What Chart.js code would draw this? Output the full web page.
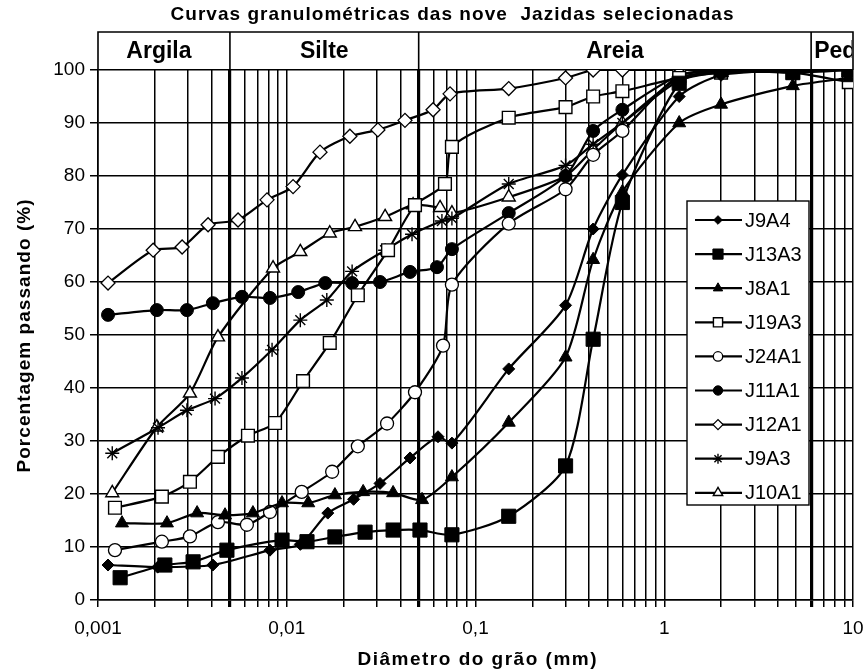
<!DOCTYPE html>
<html><head><meta charset="utf-8">
<script src="https://cdn.jsdelivr.net/npm/chart.js@4.4.1/dist/chart.umd.min.js"></script>
<style>html,body{margin:0;padding:0;background:#fff}#wrap{width:865px;height:672px}</style>
</head><body><div id="wrap"><canvas id="c" width="865" height="672"></canvas></div>
<script>
const titleText = 'Curvas granulométricas das nove  Jazidas selecionadas';
const xTitle = 'Diâmetro do grão (mm)';
const yTitle = 'Porcentagem passando (%)';
const seriesNames = ['J9A4','J13A3','J8A1','J19A3','J24A1','J11A1','J12A1','J9A3','J10A1'];
const zoneNames = ['Argila','Silte','Areia','Ped'];
const zoneLimits = [0.001, 0.005, 0.05, 6, 10];
const xTickValues = [0.001, 0.01, 0.1, 1, 10];
const xTickLabels = ['0,001','0,01','0,1','1','10'];
const yTickValues = [0,10,20,30,40,50,60,70,80,90,100];

const J9A4_d = [0.00113,0.00207,0.00406,0.00815,0.0118,0.0165,0.0226,0.0312,0.045,0.0633,0.075,0.15,0.3,0.42,0.6,1.2,2.0,4.8,9.5];
const J9A4_p = [6.6,6.2,6.6,9.4,10.5,16.4,19,22,26.8,30.8,29.6,43.6,55.6,70,80.2,95,99,100,100];
const J13A3_d = [0.00131,0.00226,0.00319,0.00482,0.00944,0.0128,0.018,0.026,0.0366,0.0508,0.075,0.15,0.3,0.42,0.6,1.2,2.0,4.8,9.5];
const J13A3_p = [4.2,6.6,7.2,9.4,11.3,11,11.9,12.8,13.2,13.2,12.3,15.8,25.3,49.2,75,97.5,100,99.5,100];
const J8A1_d = [0.00134,0.00232,0.00335,0.00471,0.00662,0.00944,0.013,0.018,0.0254,0.0366,0.0521,0.075,0.15,0.3,0.42,0.6,1.2,2.0,4.8,9.5];
const J8A1_p = [14.5,14.5,16.4,16,16.4,18.3,18.3,19.8,20.4,20.2,18.9,23.2,33.5,45.8,64.2,77,90,93.5,97,98.5];
const J19A3_d = [0.00123,0.00218,0.00307,0.00432,0.00623,0.00867,0.0122,0.0169,0.0238,0.0344,0.0478,0.0689,0.075,0.15,0.3,0.42,0.6,1.2,2.0,4.8,9.5];
const J19A3_p = [17.4,19.5,22.3,27,31,33.4,41.3,48.5,57.5,66,74.5,78.5,85.5,91,93,95,96,98.5,99.5,99.5,97.7];
const J24A1_d = [0.00123,0.00218,0.00307,0.00432,0.00615,0.00815,0.012,0.0174,0.0238,0.034,0.0478,0.0673,0.075,0.15,0.3,0.42,0.6,1.2,2.0,9.5];
const J24A1_p = [9.4,11,12,14.7,14.2,16.6,20.4,24.2,29,33.3,39.2,48,59.5,71,77.5,84,88.5,99,99.5,100];
const J11A1_d = [0.00113,0.00205,0.00296,0.00406,0.00579,0.00815,0.0115,0.016,0.0222,0.0312,0.045,0.0625,0.075,0.15,0.3,0.42,0.6,1.2,2.0,4.8,9.5];
const J11A1_p = [53.8,54.7,54.7,56,57.2,57,58.1,59.8,59.8,60,61.9,62.8,66.2,73,80,88.5,92.5,99,100,100,100];
const J12A1_d = [0.00113,0.00196,0.00279,0.00383,0.00552,0.00786,0.0108,0.015,0.0216,0.0304,0.0423,0.0596,0.0733,0.15,0.3,0.42,0.6,1.2,2.0,9.5];
const J12A1_p = [59.8,66,66.6,70.8,71.7,75.5,78,84.5,87.5,88.7,90.5,92.5,95.5,96.5,98.5,100,100,100,100,100];
const J9A3_d = [0.00119,0.00208,0.00296,0.00417,0.00579,0.00836,0.0118,0.0163,0.0222,0.0332,0.0461,0.0664,0.075,0.15,0.3,0.42,0.6,1.2,2.0,9.5];
const J9A3_p = [27.7,32.5,35.8,38,41.9,47.2,52.8,56.6,62,66,69,71.5,72,78.5,82,86,90,98,99.5,100];
const J10A1_d = [0.00119,0.00205,0.00307,0.00432,0.00846,0.0118,0.0169,0.023,0.0332,0.0467,0.0649,0.075,0.15,0.3,0.42,0.6,1.2,2.0,9.5];
const J10A1_p = [20.2,32.6,39,49.6,62.6,65.7,69.2,70.4,72.3,74.5,74,73,76,80,85,90,98.5,99.5,100];

const seriesD = [J9A4_d,J13A3_d,J8A1_d,J19A3_d,J24A1_d,J11A1_d,J12A1_d,J9A3_d,J10A1_d];
const seriesP = [J9A4_p,J13A3_p,J8A1_p,J19A3_p,J24A1_p,J11A1_p,J12A1_p,J9A3_p,J10A1_p];

// marker styles (style only, not data)
const markers = [
  {style:'rectRot', r:6, fill:'#000', bw:1},
  {style:'rect', r:10, fill:'#000', bw:1},
  {style:'triangle', r:7.5, fill:'#000', bw:1},
  {style:'rect', r:9, fill:'#fff', bw:1.4},
  {style:'circle', r:6.5, fill:'#fff', bw:1.3},
  {style:'circle', r:6.5, fill:'#000', bw:1},
  {style:'rectRot', r:7, fill:'#fff', bw:1.3},
  {style:'star', r:7, fill:'#000', bw:1.4},
  {style:'triangle', r:7.5, fill:'#fff', bw:1.4}
];

const FONT = '"Liberation Sans", Arial, sans-serif';

const datasets = seriesNames.map((name, i) => ({
  label: name,
  data: seriesD[i].map((d, j) => ({x: d, y: seriesP[i][j]})),
  borderColor: '#000',
  borderWidth: 2.2,
  tension: 0.25,
  pointStyle: markers[i].style,
  pointRadius: markers[i].r,
  pointBackgroundColor: markers[i].fill,
  pointBorderColor: '#000',
  pointBorderWidth: markers[i].bw,
  fill: false
}));

function spacedText(ctx, text, cx, cy, font, target) {
  ctx.save();
  ctx.font = font;
  const hasLS = ('letterSpacing' in ctx);
  if (hasLS) ctx.letterSpacing = '0px';
  const w = ctx.measureText(text).width;
  let s = 0;
  if (hasLS && target > w) { s = (target - w) / (text.length - 1); ctx.letterSpacing = s + 'px'; }
  const total = w + s * (text.length - 1);
  ctx.fillStyle = '#000';
  ctx.textAlign = 'left';
  ctx.textBaseline = 'middle';
  ctx.fillText(text, cx - total / 2, cy);
  ctx.restore();
}

const decor = {
  id: 'decor',
  beforeDraw(chart) {
    const ctx = chart.ctx;
    ctx.save(); ctx.fillStyle = '#fff'; ctx.fillRect(0, 0, chart.width, chart.height); ctx.restore();
  },
  afterDraw(chart) {
    const ctx = chart.ctx;
    const ca = chart.chartArea;
    const xs = chart.scales.x;
    spacedText(ctx, titleText, 452, 15, 'bold 19px ' + FONT, 563);
    spacedText(ctx, xTitle, 477, 660, 'bold 19px ' + FONT, 239);
    ctx.save(); ctx.translate(25, 336); ctx.rotate(-Math.PI / 2);
    spacedText(ctx, yTitle, 0, 0, 'bold 19px ' + FONT, 273);
    ctx.restore();
    // zone band
    const bandTop = 32;
    ctx.save();
    ctx.strokeStyle = '#000'; ctx.lineWidth = 1.6;
    ctx.beginPath();
    ctx.moveTo(ca.left, ca.top); ctx.lineTo(ca.left, bandTop); ctx.lineTo(ca.right, bandTop); ctx.lineTo(ca.right, ca.top);
    for (let k = 1; k < zoneLimits.length - 1; k++) {
      const px = xs.getPixelForValue(zoneLimits[k]);
      ctx.moveTo(px, bandTop); ctx.lineTo(px, ca.top);
    }
    ctx.stroke();
    ctx.fillStyle = '#000';
    ctx.font = 'bold 23px ' + FONT;
    ctx.textBaseline = 'middle';
    for (let k = 0; k < zoneNames.length; k++) {
      const a = xs.getPixelForValue(zoneLimits[k]);
      const b = xs.getPixelForValue(zoneLimits[k + 1]);
      if (k === zoneNames.length - 1) {
        ctx.save();
        ctx.beginPath(); ctx.rect(a, bandTop, b - a - 1, ca.top - bandTop); ctx.clip();
        ctx.textAlign = 'left';
        ctx.fillText(zoneNames[k], a + 3, 52);
        ctx.restore();
      } else {
        ctx.textAlign = 'center';
        ctx.fillText(zoneNames[k], (a + b) / 2 - (k === 0 ? 5 : 0), 52);
      }
    }
    ctx.restore();
    // legend
    const lx = 687, ly = 201, lw = 122, lh = 304;
    ctx.save();
    ctx.fillStyle = '#fff'; ctx.fillRect(lx, ly, lw, lh);
    ctx.strokeStyle = '#000'; ctx.lineWidth = 1.4; ctx.strokeRect(lx, ly, lw, lh);
    ctx.font = '20px ' + FONT; ctx.textBaseline = 'middle'; ctx.textAlign = 'left';
    for (let i = 0; i < seriesNames.length; i++) {
      const y = 220 + i * 34.1;
      ctx.strokeStyle = '#000'; ctx.lineWidth = 2.2;
      ctx.beginPath(); ctx.moveTo(695, y); ctx.lineTo(742, y); ctx.stroke();
      ctx.fillStyle = markers[i].fill; ctx.strokeStyle = '#000'; ctx.lineWidth = markers[i].bw;
      Chart.helpers.drawPoint(ctx, {pointStyle: markers[i].style, radius: markers[i].r * 0.72, borderWidth: markers[i].bw, rotation: 0}, 718, y);
      ctx.fillStyle = '#000';
      ctx.fillText(seriesNames[i], 745, y + 1);
    }
    ctx.restore();
  }
};

const allXTicks = [];
for (let e = -3; e <= 0; e++) for (let m = 1; m <= 9; m++) allXTicks.push(m * Math.pow(10, e));
allXTicks.push(10);
const thickLines = zoneLimits.slice(1, -1);

new Chart(document.getElementById('c'), {
  type: 'line',
  data: { datasets },
  plugins: [decor],
  options: {
    responsive: false,
    animation: false,
    events: [],
    layout: { padding: { left: 0, right: 12, top: 70, bottom: 0 } },
    plugins: { legend: { display: false }, title: { display: false }, tooltip: { enabled: false } },
    scales: {
      x: {
        type: 'logarithmic', min: 0.001, max: 10,
        afterBuildTicks(scale) { scale.ticks = allXTicks.map(v => ({ value: v })); },
        afterFit(scale) { scale.height = 72; scale.paddingLeft = 0; scale.paddingRight = 0; },
        ticks: {
          autoSkip: false, maxRotation: 0, minRotation: 0, padding: 10, color: '#000',
          font: { family: FONT, size: 19 },
          callback(val) {
            const i = xTickValues.findIndex(v => Math.abs(Math.log10(v) - Math.log10(val)) < 1e-6);
            return i >= 0 ? xTickLabels[i] : '';
          }
        },
        grid: {
          color: '#000', tickLength: 7,
          lineWidth(c) {
            const v = c.tick ? c.tick.value : null;
            return (v !== null && thickLines.some(t => Math.abs(t - v) / t < 1e-6)) ? 3.2 : 1.5;
          }
        },
        border: { color: '#000', width: 1.6 }
      },
      y: {
        min: 0, max: 100,
        afterBuildTicks(scale) { scale.ticks = yTickValues.map(v => ({ value: v })); },
        afterFit(scale) { scale.width = 98; scale.paddingTop = 0; scale.paddingBottom = 0; },
        ticks: { padding: 5, color: '#000', font: { family: FONT, size: 19 } },
        grid: { color: '#000', lineWidth: 1.5, tickLength: 8 },
        border: { color: '#000', width: 1.6 }
      }
    }
  }
});
</script></body></html>
